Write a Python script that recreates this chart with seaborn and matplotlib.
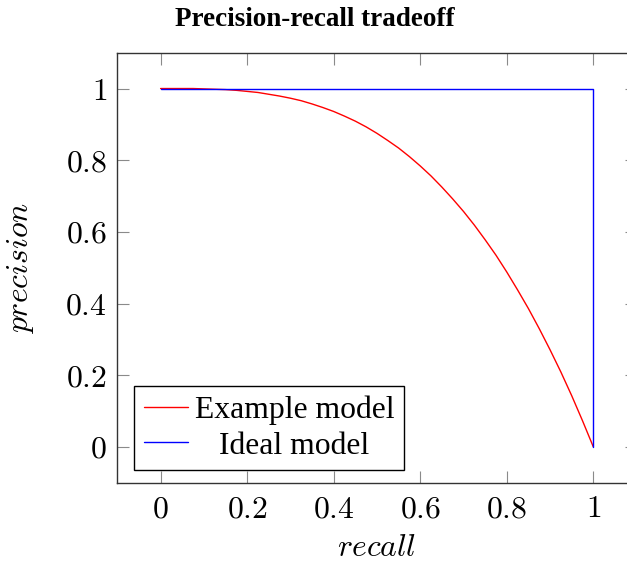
import numpy as np
import pandas as pd
import matplotlib
matplotlib.use("Agg")
import matplotlib.pyplot as plt
from matplotlib.transforms import Affine2D
import seaborn as sns

# Example model: precision at each recall level
recall_example = [0.000, 0.025, 0.050, 0.075, 0.100, 0.125, 0.150, 0.175, 0.200, 0.225,
                  0.250, 0.275, 0.300, 0.325, 0.350, 0.375, 0.400, 0.425, 0.450, 0.475,
                  0.500, 0.525, 0.550, 0.575, 0.600, 0.625, 0.650, 0.675, 0.700, 0.725,
                  0.750, 0.775, 0.800, 0.825, 0.850, 0.875, 0.900, 0.925, 0.950, 0.975,
                  1.000]
precision_example = [1.000, 1.000, 1.000, 1.000, 0.999, 0.998, 0.997, 0.995, 0.992, 0.989,
                     0.984, 0.979, 0.973, 0.966, 0.957, 0.947, 0.936, 0.923, 0.909, 0.893,
                     0.875, 0.855, 0.834, 0.810, 0.784, 0.756, 0.725, 0.692, 0.657, 0.619,
                     0.578, 0.535, 0.488, 0.438, 0.386, 0.330, 0.271, 0.209, 0.143, 0.073,
                     0.000]

# Ideal model: perfect precision up to full recall
recall_ideal = [0.0, 1.0, 1.0]
precision_ideal = [1.0, 1.0, 0.0]

tick_values = [0, 0.2, 0.4, 0.6, 0.8, 1]
tick_labels = ["$0$", "$0.2$", "$0.4$", "$0.6$", "$0.8$", "$1$"]

sns.set_style("ticks")
plt.rcParams["mathtext.fontset"] = "cm"
plt.rcParams["font.family"] = ["Liberation Serif", "DejaVu Serif"]
plt.rcParams["text.color"] = "black"
plt.rcParams["axes.labelcolor"] = "black"
plt.rcParams["xtick.labelcolor"] = "black"
plt.rcParams["ytick.labelcolor"] = "black"

fig = plt.figure(figsize=(6.27, 5.63), dpi=100)
ax = fig.add_axes([0.1871, 0.1426, 0.8282, 0.7638])

df_ex = pd.DataFrame({"recall": recall_example, "precision": precision_example})
df_id = pd.DataFrame({"recall": recall_ideal, "precision": precision_ideal})

sns.lineplot(data=df_ex, x="recall", y="precision", ax=ax, color="#ff0000",
             linewidth=1.0, sort=False, estimator=None, label="Example model")
sns.lineplot(data=df_id, x="recall", y="precision", ax=ax, color="#0000ff",
             linewidth=1.0, sort=False, estimator=None, label="Ideal model")

ax.set_xlim(-0.1, 1.1)
ax.set_ylim(-0.1, 1.1)
ax.set_xticks(tick_values)
ax.set_xticklabels(tick_labels)
ax.set_yticks(tick_values)
ax.set_yticklabels(tick_labels)
ax.tick_params(axis="both", which="major", direction="in", length=8.6, width=0.8,
               color="#8a8a8a", labelcolor="black", labelsize=22.8, top=True, right=True)
ax.tick_params(axis="x", pad=9)
ax.tick_params(axis="y", pad=7.6)
for sp in ax.spines.values():
    sp.set_visible(True)
    sp.set_color("#333333")
    sp.set_linewidth(1.0)

ax.set_xlabel("$recall$", fontsize=22.8, labelpad=7, color="black")
ax.set_ylabel("$precision$", fontsize=22.8, labelpad=21, color="black")

fig.text(0.5024, 0.9538, "Precision-recall tradeoff", ha="center", va="baseline",
         fontsize=19.5, fontweight="bold", color="black",
         family=["Liberation Serif", "DejaVu Serif"])

leg = ax.legend(loc="lower left", bbox_to_anchor=(0.0322, 0.0295), borderaxespad=0,
                fontsize=22.8, frameon=True, fancybox=False, shadow=False,
                handlelength=1.42, handletextpad=0.19, borderpad=0.3,
                labelspacing=0.2)
leg.get_frame().set_edgecolor("black")
leg.get_frame().set_linewidth(1.0)
leg.get_frame().set_alpha(1)
for t in leg.get_texts():
    t.set_color("black")

# center the shorter legend label under the longer one
fig.canvas.draw()
renderer = fig.canvas.get_renderer()
texts = leg.get_texts()
w0 = texts[0].get_window_extent(renderer).width
w1 = texts[1].get_window_extent(renderer).width
texts[1].set_transform(texts[1].get_transform() + Affine2D().translate((w0 - w1) / 2, 0))

fig.savefig("out.png", dpi=100)
